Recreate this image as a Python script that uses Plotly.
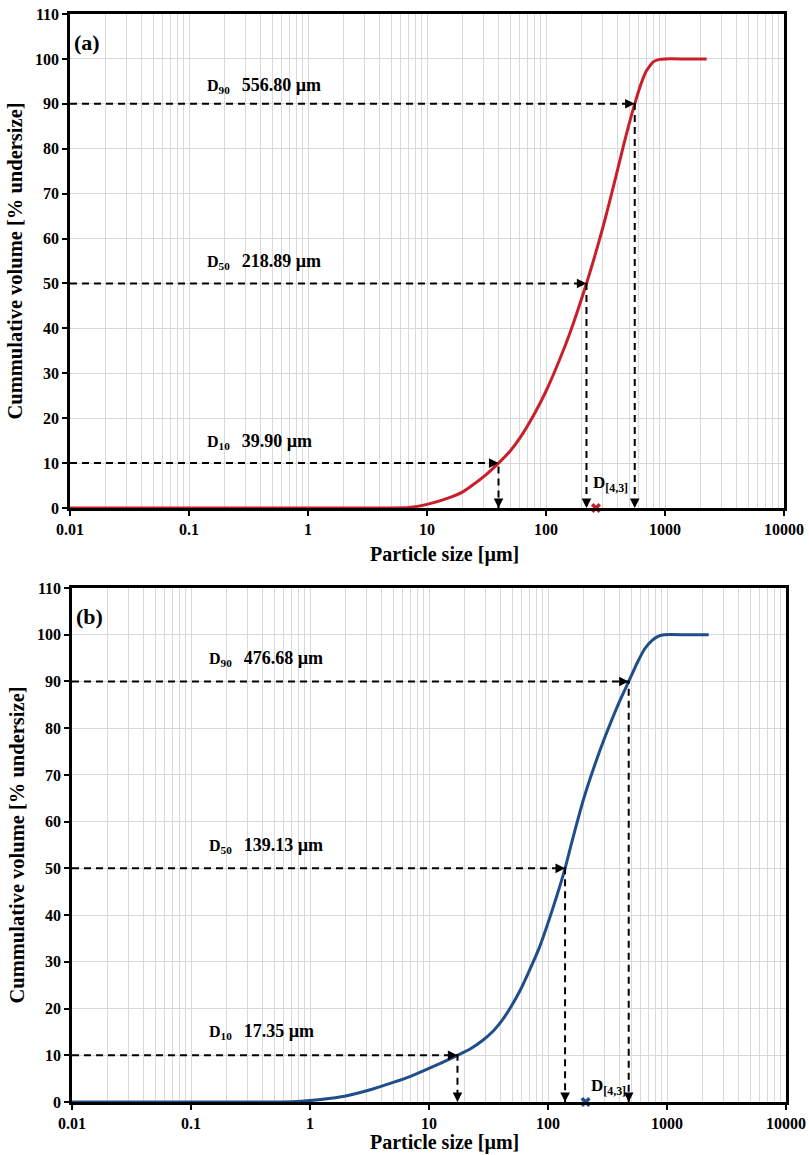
import numpy as np
import plotly.graph_objects as go

# ---------------- data ----------------
size_a = [0.01, 0.1, 1, 5, 7, 10, 15, 20, 30, 39.9, 50, 60, 80, 100, 130, 160,
          218.89, 250, 300, 350, 400, 450, 500, 556.8, 630, 700, 800, 900, 1000, 1500, 2240]
cum_a = [0, 0, 0, 0, 0.1, 0.8, 2.2, 3.6, 7.0, 10, 12.7, 15.5, 21.0, 26.0, 33.0, 39.2,
         50, 55.0, 62.4, 69.2, 75.4, 80.9, 85.6, 90, 94.5, 97.4, 99.4, 99.9, 100, 100, 100]

size_b = [0.01, 0.1, 0.5, 0.7, 1, 1.5, 2, 3, 5, 7, 10, 13, 17.35, 22, 28, 35, 42, 50, 60, 70,
          85, 100, 120, 139.13, 160, 200, 250, 300, 400, 476.68, 560, 650, 750, 850, 950,
          1500, 2240]
cum_b = [0, 0, 0, 0.05, 0.3, 0.8, 1.3, 2.4, 4.2, 5.5, 7.2, 8.5, 10, 11.3, 13.1, 15.3, 17.8,
         20.8, 24.5, 28.2, 33.2, 38.3, 44.5, 50, 56.0, 65.0, 72.5, 78.0, 85.8, 90, 93.9,
         97.0, 98.8, 99.7, 100, 100, 100]

d_levels = [10, 50, 90]
d_values_a = [39.90, 218.89, 556.80]
d_values_b = [17.35, 139.13, 476.68]
d43_a = 263
d43_b = 207

x_ticks = [0.01, 0.1, 1, 10, 100, 1000, 10000]
x_ticktext = ["0.01", "0.1", "1", "10", "100", "1000", "10000"]
y_ticks = list(range(0, 111, 10))

color_a = "#c8202a"
color_b = "#1f4e8a"

FONT = "Times New Roman, Liberation Serif, serif"

W, H = 809, 1155
fig = go.Figure()

minor_vals = [m * 10.0 ** e for e in range(-2, 4) for m in range(2, 10)]

panels = [
    dict(xa="x", ya="y", size=size_a, cum=cum_a, dv=d_values_a, d43=d43_a, col=color_a,
         label="(a)", px=(70, 784), py=(14, 508), d43_dx=-0.045, d43_y=5.3,
         lab_dy=[4.9, 4.8, 4.1], title_y=554),
    dict(xa="x2", ya="y2", size=size_b, cum=cum_b, dv=d_values_b, d43=d43_b, col=color_b,
         label="(b)", px=(72, 786), py=(588, 1102), d43_dx=0.03, d43_y=3.3,
         lab_dy=[5.0, 4.8, 5.0], title_y=1142),
]

annotations = []
for i, p in enumerate(panels):
    xa, ya = p["xa"], p["ya"]
    # curve
    fig.add_trace(go.Scatter(x=p["size"], y=p["cum"], mode="lines", xaxis=xa, yaxis=ya,
                             line=dict(color=p["col"], width=3, shape="spline", smoothing=0.5),
                             showlegend=False, hoverinfo="skip"))
    # dashed guide lines
    for lvl, dv, dy in zip(d_levels, p["dv"], p["lab_dy"]):
        fig.add_trace(go.Scatter(x=[x_ticks[0], dv, dv], y=[lvl, lvl, 0], mode="lines",
                                 xaxis=xa, yaxis=ya, showlegend=False, hoverinfo="skip",
                                 line=dict(color="black", width=2, dash="7px,5px")))
        # arrowheads
        annotations.append(dict(x=np.log10(dv), y=lvl, xref=xa, yref=ya, text="", showarrow=True,
                                ax=-7, ay=0, arrowhead=2, arrowsize=1.2, arrowwidth=1.6,
                                arrowcolor="black"))
        annotations.append(dict(x=np.log10(dv), y=0, xref=xa, yref=ya, text="", showarrow=True,
                                ax=0, ay=-7, arrowhead=2, arrowsize=1.2, arrowwidth=1.6,
                                arrowcolor="black"))
        # labels
        annotations.append(dict(x=np.log10(0.135), y=lvl + dy, xref=xa, yref=ya, xanchor="left",
                                yanchor="middle", showarrow=False,
                                text=f"<b>D<sub>{lvl}</sub>   <span style='font-size:18px'>{dv:.2f} µm</span></b>",
                                font=dict(family=FONT, size=16, color="black")))
    # D[4,3] marker
    fig.add_trace(go.Scatter(x=[p["d43"]], y=[0], mode="markers", xaxis=xa, yaxis=ya,
                             marker=dict(symbol="x", size=9, color=p["col"]),
                             cliponaxis=False, showlegend=False, hoverinfo="skip"))
    annotations.append(dict(x=np.log10(p["d43"]) + p["d43_dx"], y=p["d43_y"], xref=xa, yref=ya,
                            xanchor="left", yanchor="middle", showarrow=False,
                            text="<b>D<sub>[4,3]</sub></b>",
                            font=dict(family=FONT, size=17, color="black")))
    # panel label
    annotations.append(dict(x=0.003, y=0.972, xref=f"{xa} domain", yref=f"{ya} domain",
                            xanchor="left", yanchor="top", showarrow=False, text=f"<b>{p['label']}</b>",
                            font=dict(family=FONT, size=22, color="black")))
    # x-axis title (Excel-style, slightly right of centre)
    annotations.append(dict(x=445 / W, y=1 - p["title_y"] / H, xref="paper", yref="paper",
                            xanchor="center", yanchor="middle", showarrow=False,
                            text="<b>Particle size [µm]</b>",
                            font=dict(family=FONT, size=20, color="black")))

axis_common = dict(showline=True, linecolor="black", linewidth=2.5, mirror=True,
                   ticks="outside", tickcolor="black", tickwidth=2, ticklen=5,
                   tickfont=dict(family=FONT, size=16, color="black"), automargin=False,
                   showgrid=True, gridcolor="#d9d9d9", gridwidth=1, zeroline=False)

layout = dict(width=W, height=H, margin=dict(l=0, r=0, t=0, b=0),
              paper_bgcolor="white", plot_bgcolor="white",
              font=dict(family=FONT, color="black"), annotations=annotations)

for i, p in enumerate(panels):
    sfx = "" if i == 0 else "2"
    x0, x1 = p["px"]
    y0, y1 = p["py"]
    layout[f"xaxis{sfx}"] = dict(
        axis_common, type="log", range=[-2, 4], domain=[x0 / W, x1 / W],
        anchor=f"y{sfx}", tickmode="array", tickvals=x_ticks,
        ticktext=[f"<b>{t}</b>" for t in x_ticktext],
        minor=dict(tickmode="array", tickvals=minor_vals, showgrid=True,
                   gridcolor="#d9d9d9", gridwidth=1, ticks=""))
    layout[f"yaxis{sfx}"] = dict(
        axis_common, range=[0, 110], domain=[1 - y1 / H, 1 - y0 / H], anchor=f"x{sfx}",
        tickmode="array", tickvals=y_ticks, ticktext=[f"<b>{t}</b>" for t in y_ticks],
        title=dict(text="<b>Cummulative volume [% undersize]</b>", font=dict(family=FONT, size=20.5),
                   standoff=7))

fig.update_layout(**layout)
fig.write_html("out.html")
